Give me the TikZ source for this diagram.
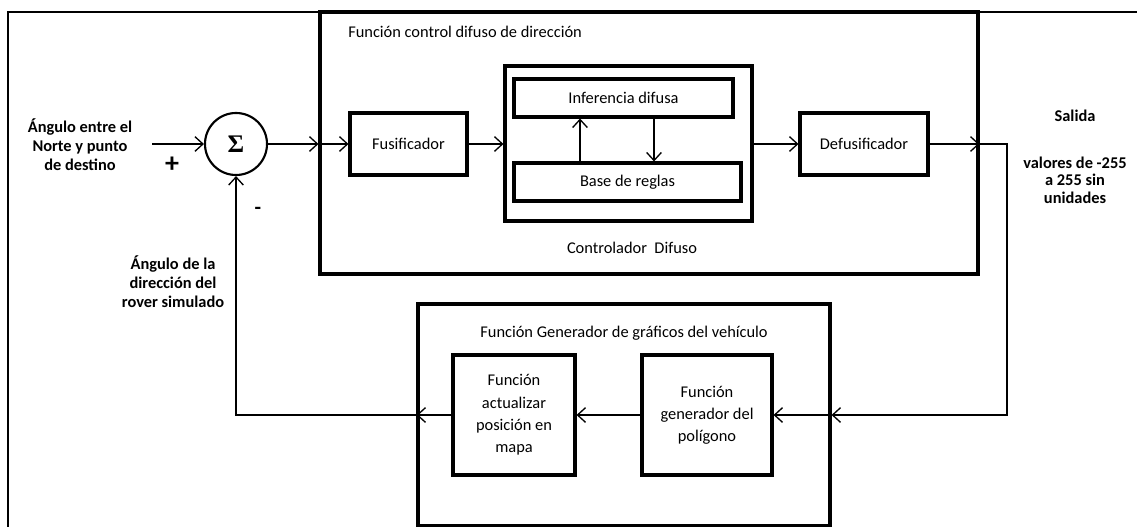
\documentclass[tikz,border=0pt]{standalone}
\usepackage{fontspec}
\setmainfont{Carlito}
\newfontfamily\sigmafont{Liberation Serif}
\usetikzlibrary{arrows.meta,fit,calc}
\begin{document}
\begin{tikzpicture}[x=0.75pt,y=-0.75pt,
  font=\fontsize{12.3}{14.5}\selectfont,
  boxfit/.style={draw,line width=2.3pt,inner sep=0pt},
  conn/.style={line width=1pt},
  arr/.style={conn,-{Straight Barb[length=6pt,width=11pt,line width=1pt]}},
  lbl/.style={align=center,inner sep=0pt,font=\fontsize{12.3}{14.2}\selectfont\bfseries},
  txt/.style={align=center,inner sep=0pt},
]
\useasboundingbox (0,0) rectangle (1137,527);
% outer partial frame
\draw[line width=1.6pt] (8,527) -- (8,12) -- (1137,12);
% main boxes
\node[boxfit,fit={(320,12) (978,274)}] (ctrl) {};
\node[txt,anchor=west] (ctrltitle) at (348,32) {Función control difuso de dirección};
\node[boxfit,fit={(350,113) (467,175)}] (fus) {};
\node[txt] at (fus.center) {Fusificador};
\node[boxfit,fit={(505,66) (752,221)}] (fc) {};
\node[boxfit,fit={(514,79) (733,117)}] (inf) {};
\node[txt] at (inf.center) {Inferencia difusa};
\node[boxfit,fit={(514,163) (741,201)}] (base) {};
\node[txt] at (base.center) {Base de reglas};
\node[txt] (fclabel) at (632,248) {Controlador\ \ Difuso};
\node[boxfit,fit={(800,113) (928,175)}] (def) {};
\node[txt] at (def.center) {Defusificador};
% sum
\node[draw,circle,line width=1.6pt,minimum size=62*0.75pt,inner sep=0pt] (sum) at (236,144) {\sigmafont\bfseries\fontsize{19}{19}\selectfont Σ};
\node[lbl] (inlab) at (80,145) {Ángulo entre el\\Norte y punto\\de destino};
\node[lbl,font=\fontsize{21}{21}\selectfont\bfseries] (plus) at (172,165) {+};
\node[lbl,font=\fontsize{16}{16}\selectfont\bfseries] (minus) at (258,211) {-};
\node[lbl] (fblab) at (173,282) {Ángulo de la\\dirección del\\rover simulado};
\node[lbl] (sal) at (1075,116) {Salida};
\node[lbl,font=\fontsize{12.3}{13.2}\selectfont\bfseries] (vals) at (1075,180) {valores de -255\\a 255 sin\\unidades};
% lower box
\node[boxfit,fit={(418,304) (830,526)}] (gen) {};
\node[txt] (gentitle) at (624,333) {Función Generador de gráficos del vehículo};
\node[boxfit,fit={(453,355) (575,475)}] (act) {};
\node[txt,font=\fontsize{12.3}{16.8}\selectfont] at (act.center) {Función\\actualizar\\posición en\\mapa};
\node[boxfit,fit={(642,355) (772,475)}] (poly) {};
\node[txt,font=\fontsize{12.3}{16.5}\selectfont] at (poly.center) {Función\\generador del\\polígono};
% coordinates
\coordinate (instart) at (152,144);
\coordinate (upx) at (580,0);
\coordinate (downx) at (654,0);
\coordinate (r1) at (1007,144);
\coordinate (r2) at (1007,415);
% connectors
\draw[arr] (instart) -- (sum.west);
\draw[arr] (sum.east) -- (sum.east -| ctrl.west);
\draw[arr] (sum.east -| ctrl.west) -- (sum.east -| fus.west);
\draw[arr] (sum.east -| fus.east) -- (sum.east -| fc.west);
\draw[arr] (base.north -| upx) -- (inf.south -| upx);
\draw[arr] (inf.south -| downx) -- (base.north -| downx);
\draw[arr] (sum.east -| fc.east) -- (sum.east -| def.west);
\draw[arr] (sum.east -| def.east) -- (sum.east -| ctrl.east);
\draw[arr] (sum.east -| ctrl.east) -- (r1) -- (r2) -- (r2 -| gen.east);
\draw[arr] (r2 -| gen.east) -- (r2 -| poly.east);
\draw[arr] (r2 -| poly.west) -- (r2 -| act.east);
\draw[arr] (r2 -| act.west) -- (r2 -| gen.west);
\draw[arr] (r2 -| gen.west) -| (sum.south);
\end{tikzpicture}
\end{document}
